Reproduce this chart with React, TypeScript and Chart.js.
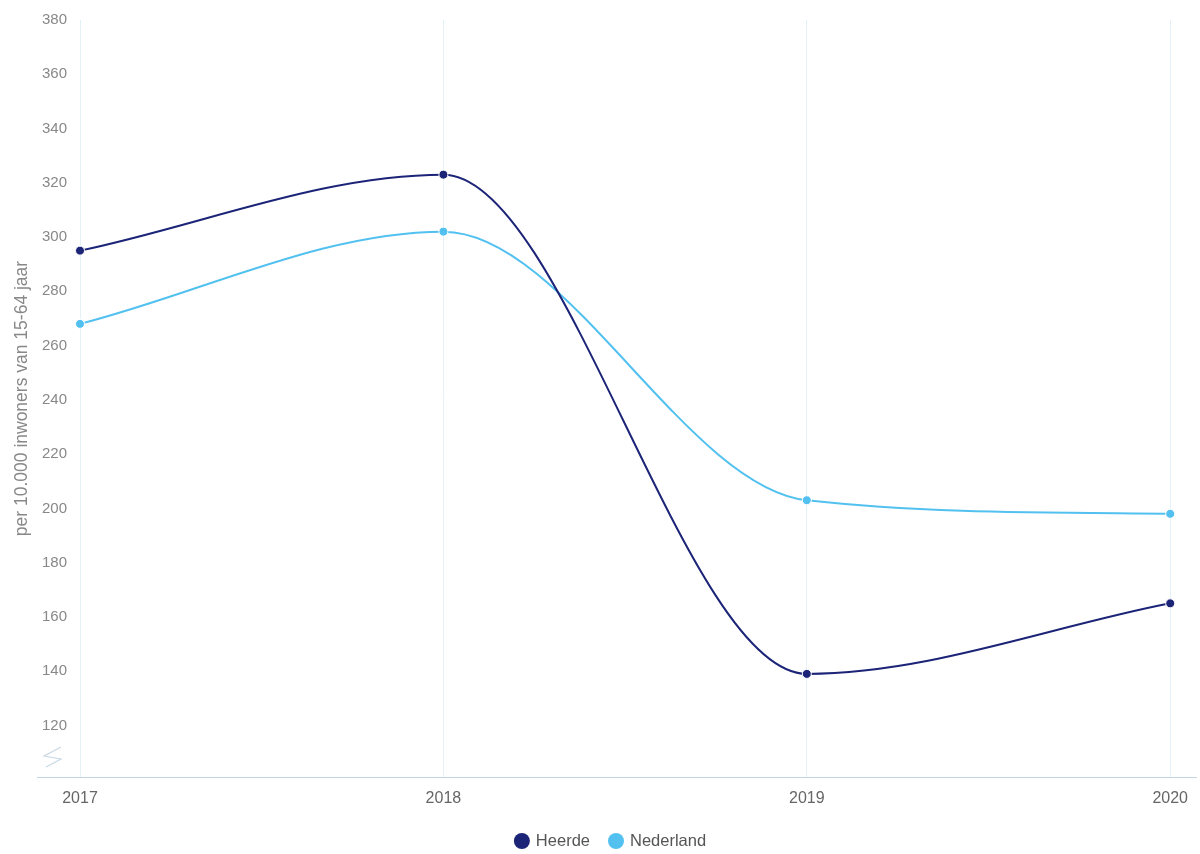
import React, { useEffect, useRef } from "react";
import { Chart, registerables } from "chart.js";

Chart.register(...registerables);

const years = ["2017", "2018", "2019", "2020"];
const heerde = [295, 323, 139, 165];
const nederland = [268, 302, 203, 198];
const yTicks = [120, 140, 160, 180, 200, 220, 240, 260, 280, 300, 320, 340, 360, 380];
const yTitle = "per 10.000 inwoners van 15-64 jaar";

const FONT = "Arial, 'Liberation Sans', sans-serif";

const decorPlugin = {
  id: "decor",
  afterDraw(chart: any) {
    const { ctx, chartArea } = chart;
    ctx.save();
    // extended bottom axis line
    ctx.strokeStyle = "#c5d5e2";
    ctx.lineWidth = 1;
    ctx.beginPath();
    ctx.moveTo(37, Math.round(chartArea.bottom) + 0.5);
    ctx.lineTo(1197, Math.round(chartArea.bottom) + 0.5);
    ctx.stroke();
    // axis break symbol
    ctx.strokeStyle = "#c8d8e4";
    ctx.lineWidth = 1.2;
    ctx.beginPath();
    ctx.moveTo(61, 747);
    ctx.lineTo(44, 756);
    ctx.lineTo(61, 759);
    ctx.lineTo(46, 767);
    ctx.stroke();

    // legend
    const items = chart.data.datasets.map((d: any) => ({ label: d.label, color: d.borderColor }));
    ctx.font = `16.5px ${FONT}`;
    const r = 8;
    const gapMarker = 6;
    const gapItems = 18;
    const widths = items.map((it: any) => 2 * r + gapMarker + ctx.measureText(it.label).width);
    const total = widths.reduce((a: number, b: number) => a + b, 0) + gapItems * (items.length - 1);
    let x = 610 - total / 2;
    const y = 841;
    ctx.textBaseline = "middle";
    ctx.textAlign = "left";
    items.forEach((it: any, i: number) => {
      ctx.fillStyle = it.color;
      ctx.beginPath();
      ctx.arc(x + r, y, r, 0, Math.PI * 2);
      ctx.fill();
      ctx.fillStyle = "#555555";
      ctx.fillText(it.label, x + 2 * r + gapMarker, y);
      x += widths[i] + gapItems;
    });
    ctx.restore();
  },
};

export default function App() {
  const ref = useRef<HTMLCanvasElement>(null);
  useEffect(() => {
    document.body.style.margin = "0";
    const chart = new Chart(ref.current!, {
      type: "line",
      data: {
        labels: years,
        datasets: [
          {
            label: "Heerde",
            data: heerde,
            borderColor: "#1c2478",
            backgroundColor: "#1c2478",
            borderWidth: 2,
            pointRadius: 4.5,
            pointBorderColor: "#ffffff",
            pointBorderWidth: 1,
            cubicInterpolationMode: "monotone",
          },
          {
            label: "Nederland",
            data: nederland,
            borderColor: "#52c1f0",
            backgroundColor: "#52c1f0",
            borderWidth: 2,
            pointRadius: 4.5,
            pointBorderColor: "#ffffff",
            pointBorderWidth: 1,
            cubicInterpolationMode: "monotone",
          },
        ],
      },
      options: {
        animation: false,
        responsive: false,
        layout: { padding: { left: 12, right: 29, top: 20, bottom: 25 } },
        plugins: {
          tooltip: { enabled: false },
          legend: { display: false },
        },
        scales: {
          x: {
            offset: false,
            grid: { color: "#e4f1f9", drawTicks: false },
            border: { display: false },
            afterFit: (s: any) => {
              s.height = 52;
            },
            ticks: {
              color: "#666666",
              padding: 12,
              maxRotation: 0,
              font: { family: FONT, size: 16 },
            },
          },
          y: {
            min: 101,
            max: 380,
            afterBuildTicks: (s: any) => {
              s.ticks = yTicks.map((v) => ({ value: v }));
            },
            afterFit: (s: any) => {
              s.width = 68;
            },
            grid: { display: false },
            border: { display: false },
            title: {
              display: true,
              text: yTitle,
              color: "#888888",
              padding: { top: 0, bottom: 0 },
              font: { family: FONT, size: 17.5 },
            },
            ticks: {
              color: "#888888",
              padding: 5,
              font: { family: FONT, size: 15 },
            },
          },
        },
      },
      plugins: [decorPlugin],
    });
    return () => chart.destroy();
  }, []);
  return (
    <div style={{ position: "absolute", left: 0, top: 0, width: 1200, height: 854, background: "#fff" }}>
      <canvas ref={ref} width={1200} height={854} style={{ width: 1200, height: 854 }} />
    </div>
  );
}
